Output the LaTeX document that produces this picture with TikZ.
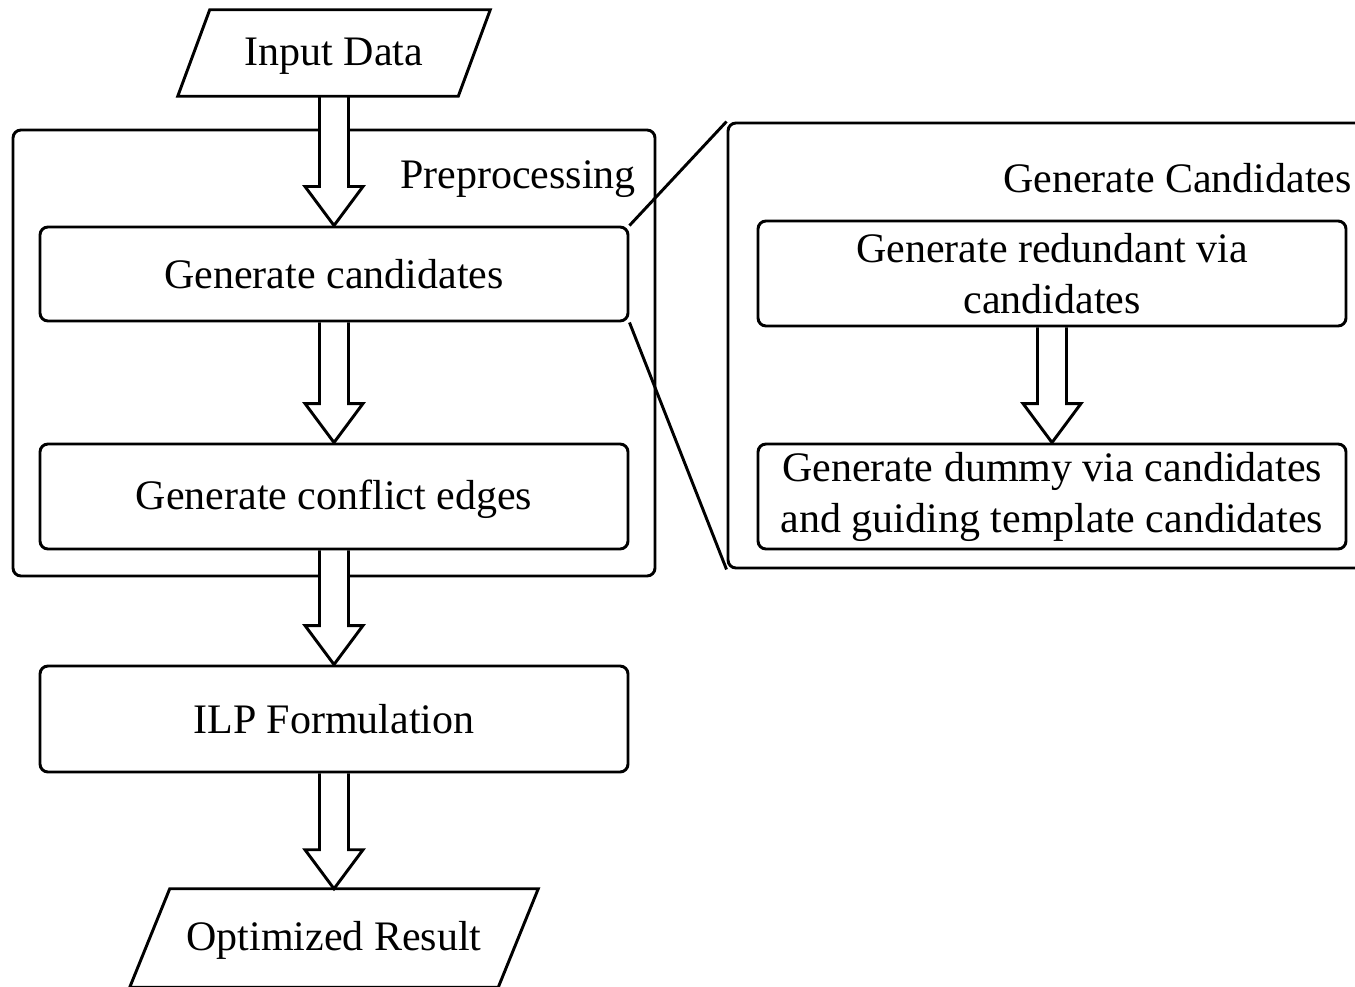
\documentclass[tikz,border=0pt]{standalone}
\usepackage{fontspec}
\setmainfont{Liberation Serif}
\usetikzlibrary{calc}
\tikzset{
  ln/.style={line width=2.2pt, line join=miter},
  box/.style={ln, draw, rounded corners=6pt, inner sep=0pt, align=center, minimum width=441pt},
  bigbox/.style={ln, draw, rounded corners=6pt, inner sep=0pt},
  para/.style={inner sep=0pt, align=center, text height=26pt, text depth=7pt},
  lbl/.style={inner sep=0pt, anchor=east}
}
\newcommand{\blockarr}[2]{%
  \fill[white] ($(#1.south)+(-14.5,1.5)$) -- ($(#2.north)+(-14.5,-39)$) -- ($(#2.north)+(-29,-39)$) -- (#2.north) -- ($(#2.north)+(29,-39)$) -- ($(#2.north)+(14.5,-39)$) -- ($(#1.south)+(14.5,1.5)$) -- cycle;
  \draw[ln] ($(#1.south)+(-14.5,0)$) -- ($(#2.north)+(-14.5,-39)$) -- ($(#2.north)+(-29,-39)$) -- (#2.north) -- ($(#2.north)+(29,-39)$) -- ($(#2.north)+(14.5,-39)$) -- ($(#1.south)+(14.5,0)$);}
\begin{document}
\begin{tikzpicture}[x=0.75pt,y=-0.75pt,font=\fontsize{31.5}{38.25}\selectfont]
\useasboundingbox (0,0) rectangle (1355,987);
% containers
\node[bigbox, minimum width=481.5pt, minimum height=334.5pt] (prep) at (334,353) {};
\node[bigbox, minimum width=489pt, minimum height=333.75pt] (gcbig) at (1054,345.5) {};
\node[lbl] (preplbl) at (636,179) {Preprocessing};
\node[lbl] (gcbiglbl) at (1352,178) {Generate Candidates};
% parallelograms
\node[para, minimum width=234pt, minimum height=64.5pt] (in) at (334,53) {Input Data};
\draw[ln] ($(in.north west)+(32,0)$) -- (in.north east) -- ($(in.south east)+(-32,0)$) -- (in.south west) -- cycle;
\node[para, minimum width=306pt, minimum height=73.5pt] (out) at (334,938) {Optimized Result};
\draw[ln] ($(out.north west)+(40,0)$) -- (out.north east) -- ($(out.south east)+(-40,0)$) -- (out.south west) -- cycle;
% boxes
\node[box, minimum height=70.5pt] (gc) at (334,274) {Generate candidates};
\node[box, minimum height=78.75pt, text height=26pt, text depth=7pt] (ce) at (334,496.5) {Generate conflict edges};
\node[box, minimum height=79.5pt] (ilp) at (334,719) {ILP Formulation};
\node[box, minimum height=78.75pt] (red) at (1052,273.5) {Generate redundant via\\candidates};
\node[box, minimum height=78.75pt] (dum) at (1052,496.5) {Generate dummy via candidates\\and guiding template candidates};
% zoom lines
\draw[ln] (gc.north east) -- (gcbig.north west);
\draw[ln] (gc.south east) -- (gcbig.south west);
% block arrows
\blockarr{in}{gc}
\blockarr{gc}{ce}
\blockarr{ce}{ilp}
\blockarr{ilp}{out}
\blockarr{red}{dum}
\end{tikzpicture}
\end{document}
